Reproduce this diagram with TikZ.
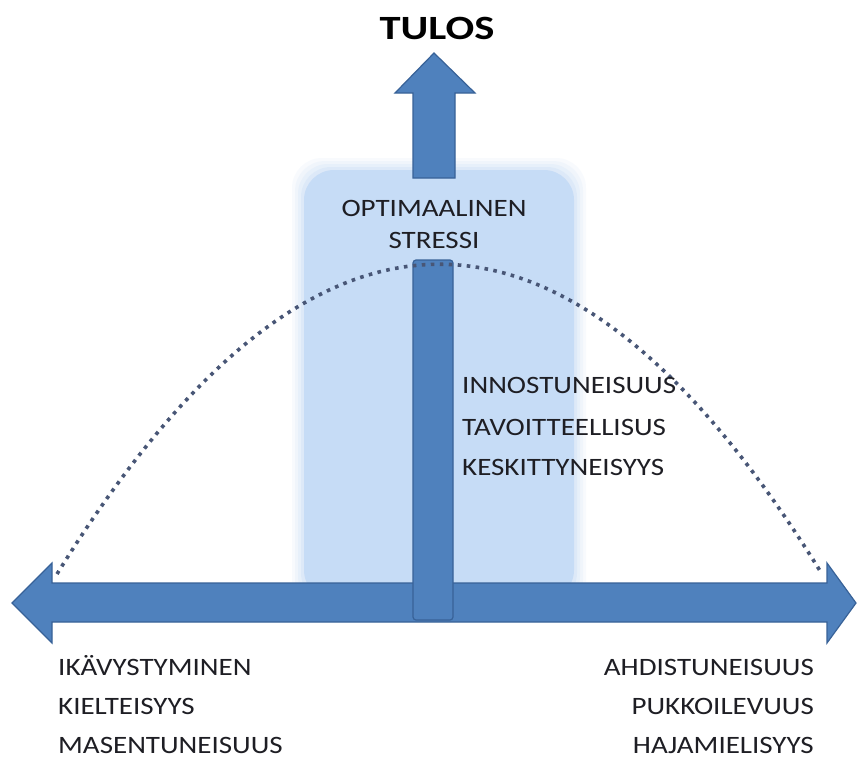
\documentclass[tikz,border=0pt]{standalone}
\usepackage{fontspec}
\usepackage{graphicx}
\setmainfont{Carlito}
\definecolor{arrowblue}{RGB}{79,129,189}
\definecolor{arrowedge}{RGB}{56,98,152}
\definecolor{glow}{RGB}{198,220,246}
\definecolor{dotcol}{RGB}{72,86,118}
\definecolor{txt}{RGB}{30,30,36}
\newcommand{\wide}[1]{\scalebox{1.16}[1]{#1}}
\tikzset{
  arrowshape/.style={fill=arrowblue, draw=arrowedge, line width=1.2pt, line join=miter},
  label/.style={text=txt, font=\fontsize{25}{30}\selectfont, inner sep=0pt, text depth=0pt},
  glowbox/.style={fill=glow, draw=none, rounded corners=30pt},
}
\begin{document}
\begin{tikzpicture}[x=1pt,y=-1pt]
\useasboundingbox (0,0) rectangle (858,758);
\fill[white] (0,0) rectangle (858,758);
% soft highlight
\foreach \d/\o in {12/0.12,9/0.15,6/0.2,3/0.3}{
  \fill[glow, opacity=\o, rounded corners=30pt] (304-\d,170-\d) rectangle (574+\d,600+\d);
}
\fill[glowbox] (304,170) rectangle (574,600);
% up arrow
\draw[arrowshape] (413,178) -- (413,93) -- (395,93) -- (434,53) -- (475,93) -- (455,93) -- (455,178) -- cycle;
% horizontal double arrow
\draw[arrowshape] (12,603) -- (52,563) -- (52,583) -- (827,583) -- (827,563) -- (856,603) -- (827,643) -- (827,622) -- (52,622) -- (52,643) -- cycle;
% vertical bar
\draw[arrowshape, rounded corners=3pt] (413,620) -- (413,260) -- (453,260) -- (453,620) -- cycle;
% dotted curve
\coordinate (cl) at (57,574);
\coordinate (cr) at (822,574);
\draw[dotcol, line width=3.6pt, dash pattern=on 3.6pt off 5.4pt] (cl) .. controls (312,161) and (567,161) .. (cr);
% texts
\node[font=\fontsize{34}{40}\bfseries\selectfont, text=black, inner sep=0pt] (tulos) at (437,28) {\scalebox{1.25}[1]{TULOS}};
\node[label] (opt) at (434,208) {\wide{OPTIMAALINEN}};
\node[label] (stress) at (434,240) {\wide{STRESSI}};
\node[label, anchor=west] (inno) at (462,385) {\wide{INNOSTUNEISUUS}};
\node[label, anchor=west] (tavo) at (462,427) {\wide{TAVOITTEELLISUS}};
\node[label, anchor=west] (kesk) at (462,467) {\wide{KESKITTYNEISYYS}};
\node[label, anchor=base west] (ika) at (58,675) {\wide{IKÄVYSTYMINEN}};
\node[label, anchor=base west] (kiel) at (58,714) {\wide{KIELTEISYYS}};
\node[label, anchor=base west] (mase) at (58,753) {\wide{MASENTUNEISUUS}};
\node[label, anchor=base east] (ahdi) at (814,675) {\wide{AHDISTUNEISUUS}};
\node[label, anchor=base east] (pukk) at (814,714) {\wide{PUKKOILEVUUS}};
\node[label, anchor=base east] (haja) at (814,753) {\wide{HAJAMIELISYYS}};
\end{tikzpicture}
\end{document}
